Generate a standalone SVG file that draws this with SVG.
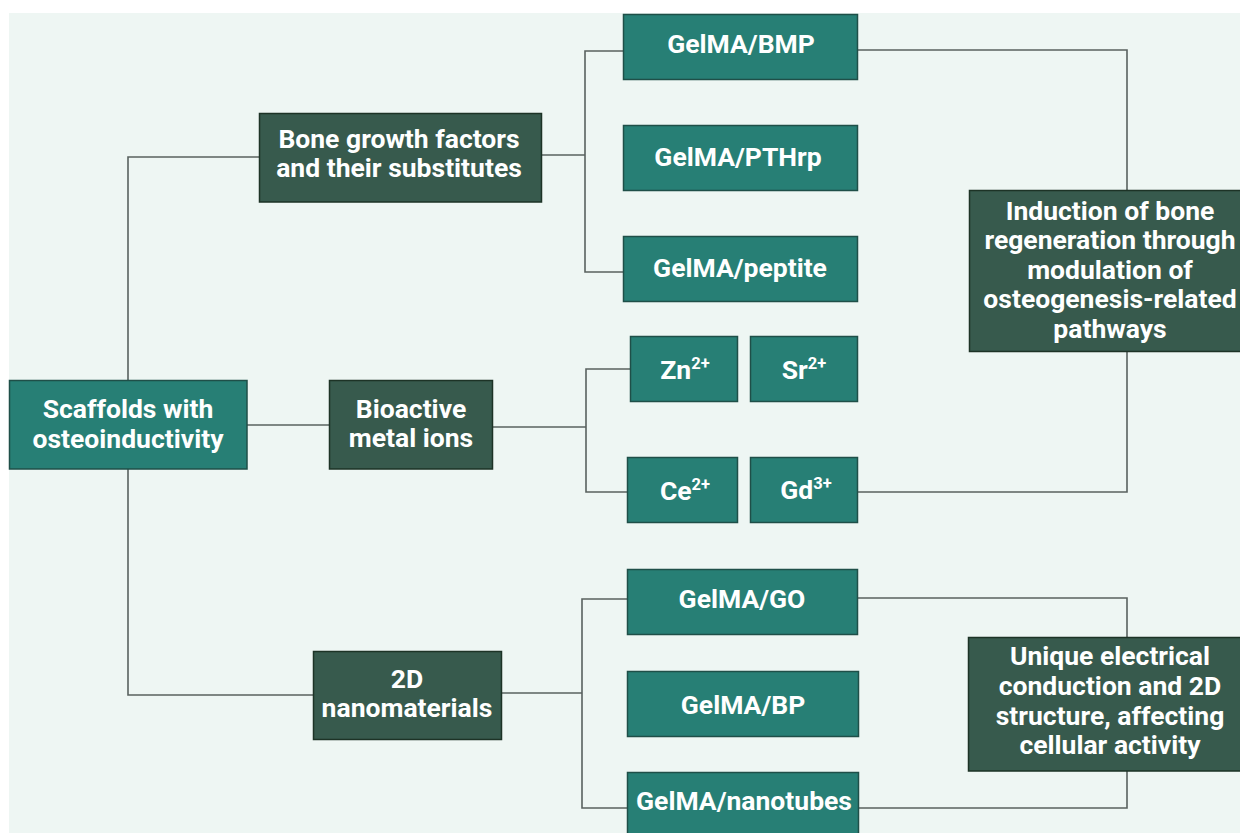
<svg xmlns="http://www.w3.org/2000/svg" width="1240" height="833" viewBox="0 0 1240 833">
<style>
.teal{fill:#277f75;stroke:#1f4f48;stroke-width:1.5}
.dark{fill:#375a4d;stroke:#1d3326;stroke-width:1.5}
.t{font-family:Roboto,"Liberation Sans",sans-serif;font-weight:bold;font-size:26.5px;fill:#ffffff;text-anchor:middle}
.sup{font-size:16.5px}
.c{fill:none;stroke:#59625f;stroke-width:1.6}
</style>
<rect x="0" y="0" width="1240" height="833" fill="#ffffff"/>
<rect x="9" y="13" width="1231" height="820" fill="#eef6f3"/>
<g id="connectors">
<path class="c" d="M128 380 V157 H259"/>
<path class="c" d="M128 469 V695 H313"/>
<path class="c" d="M247 425 H329"/>
<path class="c" d="M541 155 H585"/>
<path class="c" d="M623 51 H585 V272 H623"/>
<path class="c" d="M492 427 H586"/>
<path class="c" d="M630 369 H586 V492 H627"/>
<path class="c" d="M501 693 H582"/>
<path class="c" d="M627 599 H582 V808 H627"/>
<path class="c" d="M857 50 H1127 V190"/>
<path class="c" d="M1127 351 V492 H857"/>
<path class="c" d="M857 598 H1127 V637"/>
<path class="c" d="M1127 771 V808 H858"/>
</g>
<g id="scaffolds"><rect class="teal" x="9.5" y="380.5" width="237.5" height="88.5"/><text class="t" x="128" y="418">Scaffolds with</text><text class="t" x="128" y="448">osteoinductivity</text></g>
<g id="bone-growth"><rect class="dark" x="259.5" y="113.5" width="282" height="88.5"/><text class="t" x="399" y="148">Bone growth factors</text><text class="t" x="399" y="177">and their substitutes</text></g>
<g id="bioactive"><rect class="dark" x="329.5" y="380.5" width="163" height="88.5"/><text class="t" x="411" y="418">Bioactive</text><text class="t" x="411" y="447">metal ions</text></g>
<g id="nano2d"><rect class="dark" x="313.5" y="651.5" width="188" height="88"/><text class="t" x="407" y="688">2D</text><text class="t" x="407" y="717">nanomaterials</text></g>
<g id="gelma-bmp"><rect class="teal" x="623.5" y="14.5" width="234" height="65"/><text class="t" x="741" y="53">GelMA/BMP</text></g>
<g id="gelma-pthrp"><rect class="teal" x="623.5" y="125.5" width="234" height="65"/><text class="t" x="738" y="166">GelMA/PTHrp</text></g>
<g id="gelma-peptite"><rect class="teal" x="623.5" y="236.5" width="234" height="65"/><text class="t" x="740" y="277">GelMA/peptite</text></g>
<g id="zn"><rect class="teal" x="630.5" y="336.5" width="107" height="65"/><text class="t" x="685" y="379">Zn<tspan class="sup" dy="-10">2+</tspan></text></g>
<g id="sr"><rect class="teal" x="750.5" y="336.5" width="107" height="65"/><text class="t" x="804" y="379">Sr<tspan class="sup" dy="-10">2+</tspan></text></g>
<g id="ce"><rect class="teal" x="627.5" y="457.5" width="110" height="65"/><text class="t" x="685" y="500">Ce<tspan class="sup" dy="-10">2+</tspan></text></g>
<g id="gd"><rect class="teal" x="750.5" y="457.5" width="107" height="65"/><text class="t" x="806" y="499">Gd<tspan class="sup" dy="-10">3+</tspan></text></g>
<g id="gelma-go"><rect class="teal" x="627.5" y="569.5" width="230" height="65"/><text class="t" x="742" y="608">GelMA/GO</text></g>
<g id="gelma-bp"><rect class="teal" x="627.5" y="671.5" width="231" height="65"/><text class="t" x="743" y="714">GelMA/BP</text></g>
<g id="gelma-nanotubes"><rect class="teal" x="627.5" y="772.5" width="231" height="70"/><text class="t" x="744" y="810">GelMA/nanotubes</text></g>
<g id="induction"><rect class="dark" x="969.5" y="190.5" width="280" height="161"/><text class="t" x="1110" y="220">Induction of bone</text><text class="t" x="1110" y="249">regeneration through</text><text class="t" x="1110" y="279">modulation of</text><text class="t" x="1110" y="308">osteogenesis-related</text><text class="t" x="1110" y="338">pathways</text></g>
<g id="unique"><rect class="dark" x="968.5" y="637.5" width="281" height="133.5"/><text class="t" x="1110" y="665">Unique electrical</text><text class="t" x="1110" y="695">conduction and 2D</text><text class="t" x="1110" y="725">structure, affecting</text><text class="t" x="1110" y="754">cellular activity</text></g>
</svg>
